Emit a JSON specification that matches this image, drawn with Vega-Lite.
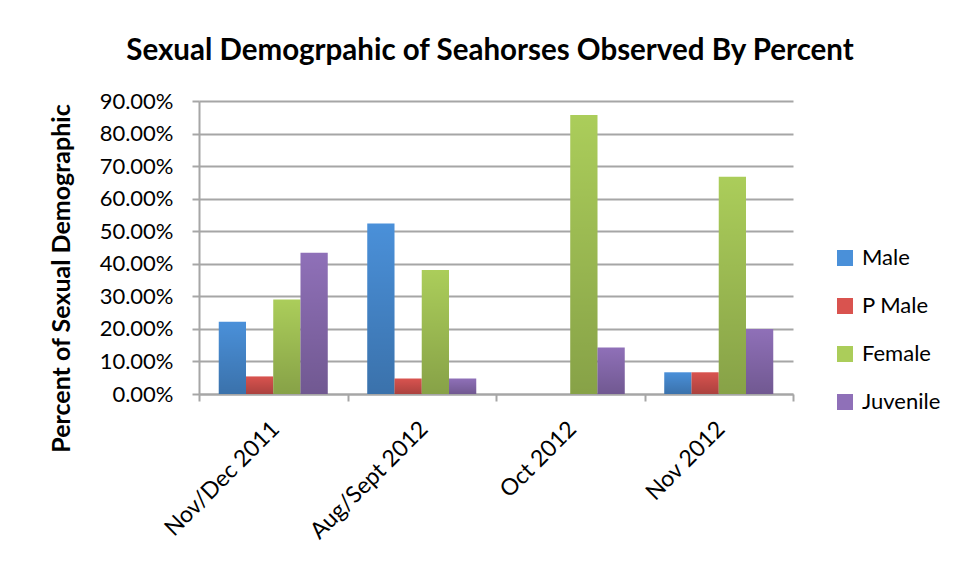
{
  "$schema": "https://vega.github.io/schema/vega-lite/v6.json",
  "width": 594,
  "height": 293,
  "autosize": {"type": "none"},
  "padding": {"left": 199, "top": 101, "right": 163, "bottom": 187},
  "background": "white",
  "title": {
    "text": "Sexual Demogrpahic of Seahorses Observed By Percent",
    "font": "Lato",
    "fontSize": 29.5,
    "fontWeight": "bold",
    "color": "black",
    "anchor": "middle",
    "frame": "group",
    "baseline": "alphabetic",
    "offset": 1,
    "dx": -6
  },
  "data": {
    "values": [
      {"period": "Nov/Dec 2011", "group": "Male", "pct": 0.222},
      {"period": "Nov/Dec 2011", "group": "P Male", "pct": 0.054},
      {"period": "Nov/Dec 2011", "group": "Female", "pct": 0.290},
      {"period": "Nov/Dec 2011", "group": "Juvenile", "pct": 0.434},
      {"period": "Aug/Sept 2012", "group": "Male", "pct": 0.524},
      {"period": "Aug/Sept 2012", "group": "P Male", "pct": 0.0476},
      {"period": "Aug/Sept 2012", "group": "Female", "pct": 0.381},
      {"period": "Aug/Sept 2012", "group": "Juvenile", "pct": 0.0476},
      {"period": "Oct 2012", "group": "Male", "pct": 0},
      {"period": "Oct 2012", "group": "P Male", "pct": 0},
      {"period": "Oct 2012", "group": "Female", "pct": 0.857},
      {"period": "Oct 2012", "group": "Juvenile", "pct": 0.143},
      {"period": "Nov 2012", "group": "Male", "pct": 0.0667},
      {"period": "Nov 2012", "group": "P Male", "pct": 0.0667},
      {"period": "Nov 2012", "group": "Female", "pct": 0.667},
      {"period": "Nov 2012", "group": "Juvenile", "pct": 0.20}
    ]
  },
  "encoding": {
    "x": {
      "field": "period",
      "type": "nominal",
      "sort": ["Nov/Dec 2011", "Aug/Sept 2012", "Oct 2012", "Nov 2012"],
      "scale": {"paddingInner": 0, "paddingOuter": 0},
      "axis": {
        "title": null,
        "labelAngle": -45,
        "labelAlign": "right",
        "labelBaseline": "middle",
        "labelFont": "Lato",
        "labelFontSize": 23,
        "labelColor": "black",
        "labelOffset": 2,
        "labelPadding": 24,
        "tickSize": 7,
        "tickColor": "#A6A6A6",
        "tickWidth": 2,
        "tickBand": "extent",
        "domainColor": "#A6A6A6",
        "domainWidth": 2,
        "grid": false
      }
    },
    "xOffset": {
      "field": "group",
      "type": "nominal",
      "sort": ["Male", "P Male", "Female", "Juvenile"],
      "scale": {"paddingInner": 0, "paddingOuter": 0.725}
    },
    "y": {
      "field": "pct",
      "type": "quantitative",
      "scale": {"domain": [0, 0.9], "nice": false},
      "axis": {
        "title": "Percent of Sexual Demographic",
        "titleFont": "Lato",
        "titleFontSize": 25,
        "titleFontWeight": "bold",
        "titleColor": "black",
        "titleAngle": -90,
        "titleX": -138,
        "titleY": 177,
        "titleBaseline": "middle",
        "titleAlign": "center",
        "format": ".2%",
        "values": [0, 0.1, 0.2, 0.3, 0.4, 0.5, 0.6, 0.7, 0.8, 0.9],
        "labelFont": "Lato",
        "labelFontSize": 22,
        "labelColor": "black",
        "labelPadding": 19,
        "tickSize": 7,
        "tickColor": "#A6A6A6",
        "tickWidth": 2,
        "domainColor": "#A6A6A6",
        "domainWidth": 2,
        "grid": true,
        "gridColor": "#A6A6A6",
        "gridWidth": 2
      }
    }
  },
  "layer": [
    {
      "mark": {"type": "bar"},
      "encoding": {
        "color": {
          "field": "group",
          "type": "nominal",
          "sort": ["Male", "P Male", "Female", "Juvenile"],
          "scale": {
            "domain": ["Male", "P Male", "Female", "Juvenile"],
            "range": ["#4A90D9", "#D9534F", "#ABCD5A", "#8F70B8"]
          },
          "legend": {
            "title": null,
            "orient": "none",
            "legendX": 635,
            "legendY": 146,
            "padding": 0,
            "symbolType": "square",
            "symbolSize": 256,
            "symbolStrokeWidth": 0,
            "labelFont": "Lato",
            "labelFontSize": 22,
            "labelColor": "black",
            "labelOffset": 6,
            "rowPadding": 26
          }
        }
      }
    },
    {
      "mark": {
        "type": "bar",
        "fill": {
          "gradient": "linear",
          "x1": 0, "y1": 0, "x2": 0, "y2": 1,
          "stops": [
            {"offset": 0, "color": "rgba(0,0,0,0)"},
            {"offset": 1, "color": "rgba(0,0,0,0.21)"}
          ]
        }
      }
    }
  ],
  "config": {
    "view": {"stroke": null}
  }
}
